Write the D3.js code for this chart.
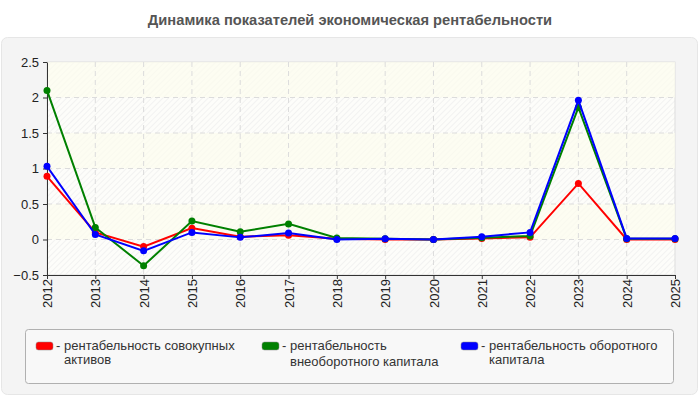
<!DOCTYPE html>
<html>
<head>
<meta charset="utf-8">
<script src="https://cdn.jsdelivr.net/npm/d3@7"></script>
<style>
    body { margin: 0; background: #fff; font-family: "Liberation Sans", Arial, sans-serif; }
</style>
</head>
<body>
<svg id="chart" width="700" height="400"></svg>
<script>
const years = ["2012", "2013", "2014", "2015", "2016", "2017", "2018", "2019", "2020", "2021", "2022", "2023", "2024", "2025"]
const yTicks = [-0.5, 0, 0.5, 1, 1.5, 2, 2.5]
const seriesNames = ["рентабельность совокупных активов", "рентабельность внеоборотного капитала", "рентабельность оборотного капитала"]
const seriesColors = ["#ff0000", "#008000", "#0000ff"]
const assetsValues = [0.89, 0.10, -0.10, 0.16, 0.04, 0.06, 0.01, 0.0, 0.0, 0.015, 0.03, 0.79, 0.0, 0.0]
const fixedCapitalValues = [2.1, 0.17, -0.37, 0.26, 0.11, 0.22, 0.02, 0.01, 0.0, 0.025, 0.05, 1.86, 0.01, 0.01]
const workingCapitalValues = [1.03, 0.07, -0.16, 0.10, 0.03, 0.09, 0.0, 0.01, 0.0, 0.04, 0.10, 1.96, 0.015, 0.015]
const legendLines = [["рентабельность совокупных", "активов"], ["рентабельность", "внеоборотного капитала"], ["рентабельность оборотного", "капитала"]]

let svg = d3.select("#chart"),
    margin = {left: 47, right: 675, top: 62, bottom: 275},
    series = [assetsValues, fixedCapitalValues, workingCapitalValues]

svg.append("text")
    .attr("x", 350).attr("y", 25)
    .attr("text-anchor", "middle")
    .style("font-size", "14.7px").style("font-weight", "bold").style("fill", "#555")
    .text("Динамика показателей экономическая рентабельности")

svg.append("rect")
    .attr("x", 1.5).attr("y", 37.5).attr("width", 696).attr("height", 357).attr("rx", 6)
    .style("fill", "#f4f4f4").style("stroke", "#e6e6e6")

let defs = svg.append("defs"),
    pattern = defs.append("pattern")
        .attr("id", "hatch").attr("width", 4).attr("height", 4)
        .attr("patternUnits", "userSpaceOnUse").attr("patternTransform", "rotate(45)")

pattern.append("rect").attr("width", 4).attr("height", 4).style("fill", "#fdfdfa")
pattern.append("line").attr("x1", 0).attr("y1", 0).attr("x2", 0).attr("y2", 4)
    .style("stroke", "#efefef").style("stroke-width", 1.5)

let x = d3.scalePoint().domain(years).range([margin.left, margin.right]),
    y = d3.scaleLinear().domain([-0.5, 2.5]).range([margin.bottom, margin.top])

svg.append("rect")
    .attr("x", margin.left).attr("y", margin.top)
    .attr("width", margin.right - margin.left).attr("height", margin.bottom - margin.top)
    .style("fill", "url(#hatch)").style("stroke", "#dddddd")

// alternating tinted bands
yTicks.slice(0, -1).forEach(function(t, i) {
    if (i % 2 === 0) return
    svg.append("rect")
        .attr("x", margin.left).attr("y", y(t + 0.5))
        .attr("width", margin.right - margin.left).attr("height", y(t) - y(t + 0.5))
        .style("fill", "#fcfcee").style("opacity", 0.7)
})

let grid = svg.append("g").style("stroke", "#dcdcdc").style("stroke-dasharray", "5,4")

grid.selectAll(".hg").data(yTicks.slice(1, -1)).join("line")
    .attr("x1", margin.left).attr("x2", margin.right)
    .attr("y1", d => y(d)).attr("y2", d => y(d))

grid.selectAll(".vg").data(years.slice(1, -1)).join("line")
    .attr("x1", d => x(d)).attr("x2", d => x(d))
    .attr("y1", margin.top).attr("y2", margin.bottom)

let yAxis = svg.append("g")
    .attr("transform", `translate(${margin.left},0)`)
    .call(d3.axisLeft(y).tickValues(yTicks).tickSize(4).tickSizeOuter(0).tickFormat(d3.format("")))

let xAxis = svg.append("g")
    .attr("transform", `translate(0,${margin.bottom})`)
    .call(d3.axisBottom(x).tickSize(4).tickSizeOuter(0))

;[yAxis, xAxis].forEach(function(axis) {
    axis.select(".domain").style("stroke", "#333")
    axis.selectAll(".tick line").style("stroke", "#333")
    axis.selectAll("text")
        .style("font-family", "Liberation Sans, Arial, sans-serif")
        .style("font-size", "13px").style("fill", "#222")
})

yAxis.selectAll("text").attr("x", -8)

xAxis.selectAll("text")
    .attr("transform", "rotate(-90)")
    .attr("text-anchor", "end")
    .attr("x", -4).attr("y", 0).attr("dy", "0.35em")

let line = d3.line()
    .x((d, i) => x(years[i]))
    .y(d => y(d))

series.forEach(function(values, s) {
    svg.append("path")
        .datum(values)
        .attr("d", line)
        .style("fill", "none")
        .style("stroke", seriesColors[s])
        .style("stroke-width", 2)

    svg.append("g").selectAll("circle").data(values).join("circle")
        .attr("cx", (d, i) => x(years[i]))
        .attr("cy", d => y(d))
        .attr("r", 3.5)
        .style("fill", seriesColors[s])
})

svg.append("rect")
    .attr("x", 25.5).attr("y", 329.5).attr("width", 648).attr("height", 54).attr("rx", 3)
    .style("fill", "#f8f8f8").style("stroke", "#b0b0b0")

let legendX = [36, 262, 461]

legendLines.forEach(function(lines, i) {
    let g = svg.append("g").attr("transform", `translate(${legendX[i]},342)`)

    g.append("rect")
        .attr("width", 17).attr("height", 8).attr("rx", 2.5)
        .style("fill", seriesColors[i]).style("stroke", "#888").style("stroke-width", 0.5)

    g.append("text")
        .attr("x", 20).attr("y", 8)
        .style("font-size", "13px").style("fill", "#333")
        .text("-")

    lines.forEach(function(t, j) {
        g.append("text")
            .attr("x", 28).attr("y", 8 + j * (i === 1 ? 16 : 14))
            .style("font-size", "13px").style("fill", "#333")
            .text(t)
    })
})
</script>
</body>
</html>
